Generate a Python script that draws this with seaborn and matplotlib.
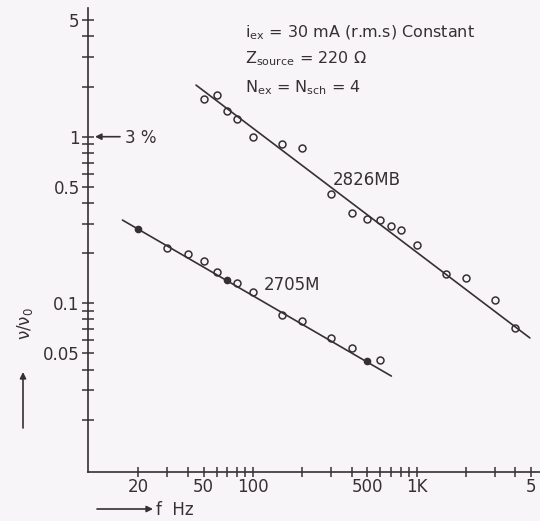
import pandas as pd
import seaborn as sns
import matplotlib.pyplot as plt
from matplotlib.patches import FancyArrowPatch
from matplotlib.ticker import FixedLocator, FixedFormatter, NullFormatter

# transducer 2826MB (open circles)
freq_mb = [50, 60, 70, 80, 100, 150, 200, 300, 400, 500, 600, 700, 800, 1000, 1500, 2000, 3000, 4000]
ratio_mb = [1.68, 1.78, 1.43, 1.27, 1.0, 0.90, 0.85, 0.45, 0.35, 0.32, 0.316, 0.29, 0.276, 0.223,
            0.151, 0.141, 0.104, 0.071]

# transducer 2705M
freq_m = [20, 30, 40, 50, 60, 70, 80, 100, 150, 200, 300, 400, 500, 600]
ratio_m = [0.278, 0.214, 0.197, 0.180, 0.154, 0.138, 0.132, 0.117, 0.085, 0.078, 0.062, 0.054, 0.045, 0.046]
filled_m = [1, 0, 0, 0, 0, 1, 0, 0, 0, 0, 0, 0, 1, 0]

# fitted straight lines (end points)
fit_mb_f = [45, 4900]
fit_mb_v = [2.04, 0.062]
fit_m_f = [16, 700]
fit_m_v = [0.316, 0.0366]

xticks_major = [20, 50, 100, 500, 1000, 5000]
xticks_labels = ["20", "50", "100", "500", "1K", "5"]
xticks_minor = [30, 40, 60, 70, 80, 90, 200, 300, 400, 600, 700, 800, 900, 2000, 3000, 4000]
yticks_major = [0.05, 0.1, 0.5, 1, 5]
yticks_labels = ["0.05", "0.1", "0.5", "1", "5"]
yticks_minor = [0.02, 0.03, 0.04, 0.06, 0.07, 0.08, 0.09, 0.2, 0.3, 0.4, 0.6, 0.7, 0.8, 0.9, 2, 3, 4]

mb = pd.DataFrame({"f": freq_mb, "v": ratio_mb})
m = pd.DataFrame({"f": freq_m, "v": ratio_m, "filled": filled_m})

ink = "#363034"
bg = "#f7f5f7"

sns.set_style("white")
plt.rcParams["font.family"] = ["DejaVu Sans"]
plt.rcParams["mathtext.default"] = "regular"
plt.rcParams["text.color"] = ink

W, H = 540, 521
fig = plt.figure(figsize=(W / 100, H / 100), dpi=100, facecolor=bg)


def px(x, y):
    return x / W, 1 - y / H


ax = fig.add_axes([88 / W, (H - 471.5) / H, 452 / W, (471.5 - 8) / H])
ax.set_facecolor(bg)
ax.set_xscale("log")
ax.set_yscale("log")

sns.lineplot(x=fit_mb_f, y=fit_mb_v, ax=ax, color=ink, lw=1.2)
sns.lineplot(x=fit_m_f, y=fit_m_v, ax=ax, color=ink, lw=1.2)

sns.lineplot(data=mb, x="f", y="v", ax=ax, marker="o", linestyle="", ms=5, mew=1.1,
             mfc="none", mec=ink, estimator=None)
m_open = m[m["filled"] == 0]
m_fill = m[m["filled"] == 1]
sns.lineplot(data=m_open, x="f", y="v", ax=ax, marker="o", linestyle="", ms=5, mew=1.1,
             mfc="none", mec=ink, estimator=None)
sns.lineplot(data=m_fill, x="f", y="v", ax=ax, marker="o", linestyle="", ms=4.5, mew=1.0,
             mfc=ink, mec=ink, estimator=None)

ax.set_xlim(9.86, 5650)
ax.set_ylim(0.00979, 5.92)

for s in ["top", "right"]:
    ax.spines[s].set_visible(False)
for s in ["left", "bottom"]:
    ax.spines[s].set_color(ink)
    ax.spines[s].set_linewidth(1.2)

ax.xaxis.set_major_locator(FixedLocator(xticks_major))
ax.xaxis.set_major_formatter(FixedFormatter(xticks_labels))
ax.xaxis.set_minor_locator(FixedLocator(xticks_minor))
ax.xaxis.set_minor_formatter(NullFormatter())
ax.yaxis.set_major_locator(FixedLocator(yticks_major))
ax.yaxis.set_major_formatter(FixedFormatter(yticks_labels))
ax.yaxis.set_minor_locator(FixedLocator(yticks_minor))
ax.yaxis.set_minor_formatter(NullFormatter())

ax.tick_params(axis="y", which="both", left=True, direction="inout", length=8, width=1.1,
               color=ink, labelcolor=ink, labelsize=12, pad=2)
ax.tick_params(axis="x", which="both", bottom=True, direction="inout", length=7, width=1.1,
               color=ink, labelcolor=ink, labelsize=12, pad=1)
ax.set_xlabel("")
ax.set_ylabel("")

# conditions
fig.text(*px(245, 37), "$i_{ex}$ = 30 mA (r.m.s) Constant", fontsize=11.5, va="baseline")
fig.text(*px(245, 63), "Z$_{source}$ = 220 Ω", fontsize=11.5, va="baseline")
fig.text(*px(245, 92), "N$_{ex}$ = N$_{sch}$ = 4", fontsize=11.5, va="baseline")

# curve labels
fig.text(*px(333, 185), "2826MB", fontsize=12, va="baseline")
fig.text(*px(264, 290), "2705M", fontsize=12, va="baseline")

# 3 % marker
arrow = dict(arrowstyle="-|>", color=ink, lw=1.2, mutation_scale=9, shrinkA=0, shrinkB=0)
fig.add_artist(FancyArrowPatch(px(120, 136.7), px(95, 136.7), transform=fig.transFigure, **arrow))
fig.text(*px(125, 143), "3 %", fontsize=12, va="baseline")

# axis labels
fig.text(*px(25, 324), "ν/ν$_0$", fontsize=12, rotation=90, ha="center", va="center")
fig.add_artist(FancyArrowPatch(px(23, 428), px(23, 372), transform=fig.transFigure, **arrow))
fig.add_artist(FancyArrowPatch(px(97, 509), px(153, 509), transform=fig.transFigure, **arrow))
fig.text(*px(156, 510), "f  Hz", fontsize=12, va="center")

fig.savefig("out.png", dpi=100, facecolor=bg)
